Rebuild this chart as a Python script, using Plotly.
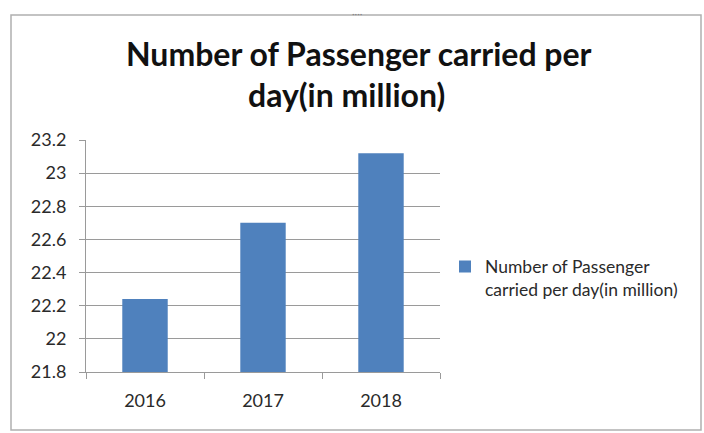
import plotly.graph_objects as go

# Passenger volumes per day, in millions
years = ["2016", "2017", "2018"]
passengers = [22.24, 22.70, 23.12]
series_name = "Number of Passenger<br>carried per day(in million)"
title_lines = ["Number of Passenger carried per", "day(in million)"]
y_ticks = [21.8, 22.0, 22.2, 22.4, 22.6, 22.8, 23.0, 23.2]
y_tick_text = ["21.8", "22", "22.2", "22.4", "22.6", "22.8", "23", "23.2"]

BAR = "#4F81BD"
GRID = "#9a9a9a"
TXT = "#2a2a2a"
FONT = "Lato, Carlito, Calibri, sans-serif"

W, H = 704, 433
L, R, T, B = 86, 264, 140, 61
pw, ph = W - L - R, H - T - B


def px(x):
    return (x - L) / pw


def py(y):
    return (H - B - y) / ph


fig = go.Figure()
fig.add_trace(go.Bar(
    x=years, y=passengers, name=series_name,
    marker=dict(color=BAR, line=dict(width=0)),
    showlegend=True,
))

fig.update_layout(
    width=W, height=H,
    margin=dict(l=L, r=R, t=T, b=B, pad=0),
    paper_bgcolor="white", plot_bgcolor="white",
    bargap=0.615,
    font=dict(family=FONT, color=TXT, size=18),
    showlegend=True,
    legend=dict(
        x=px(445), y=py(278), xanchor="left", yanchor="middle",
        font=dict(family=FONT, size=17.5, color=TXT),
        valign="top", bgcolor="rgba(0,0,0,0)", borderwidth=0,
    ),
    xaxis=dict(
        type="category", showgrid=False,
        showline=True, linecolor=GRID, linewidth=1,
        ticks="outside", tickson="boundaries", ticklen=6, tickcolor=GRID,
        tickfont=dict(size=18, color=TXT), ticklabelstandoff=12,
        fixedrange=True,
    ),
    yaxis=dict(
        range=[21.8, 23.2], tickvals=y_ticks, ticktext=y_tick_text,
        showgrid=True, gridcolor=GRID, gridwidth=1,
        showline=True, linecolor=GRID, linewidth=1,
        ticks="outside", ticklen=6, tickcolor=GRID,
        tickfont=dict(size=18, color=TXT), ticklabelstandoff=9,
        zeroline=False, fixedrange=True,
    ),
)

# Two-line chart title
fig.add_annotation(text="<b>%s</b>" % title_lines[0], xref="paper", yref="paper",
                   x=px(359), y=py(53), xanchor="center", yanchor="middle",
                   showarrow=False, font=dict(family=FONT, size=32, color="#111111"))
fig.add_annotation(text="<b>%s</b>" % title_lines[1], xref="paper", yref="paper",
                   x=px(346), y=py(94), xanchor="center", yanchor="middle",
                   showarrow=False, font=dict(family=FONT, size=32, color="#111111"))

# Chart frame and its top handle
fig.add_shape(type="rect", xref="paper", yref="paper",
              x0=px(11), x1=px(701), y0=py(430), y1=py(15),
              line=dict(color="#b0b0b0", width=1.5), fillcolor="rgba(0,0,0,0)", layer="below")
fig.add_annotation(text="····", xref="paper", yref="paper", x=px(357), y=py(13),
                   xanchor="center", yanchor="middle", showarrow=False,
                   font=dict(size=10, color="#888888"))

fig.write_html("out.html", config={"displayModeBar": False})
